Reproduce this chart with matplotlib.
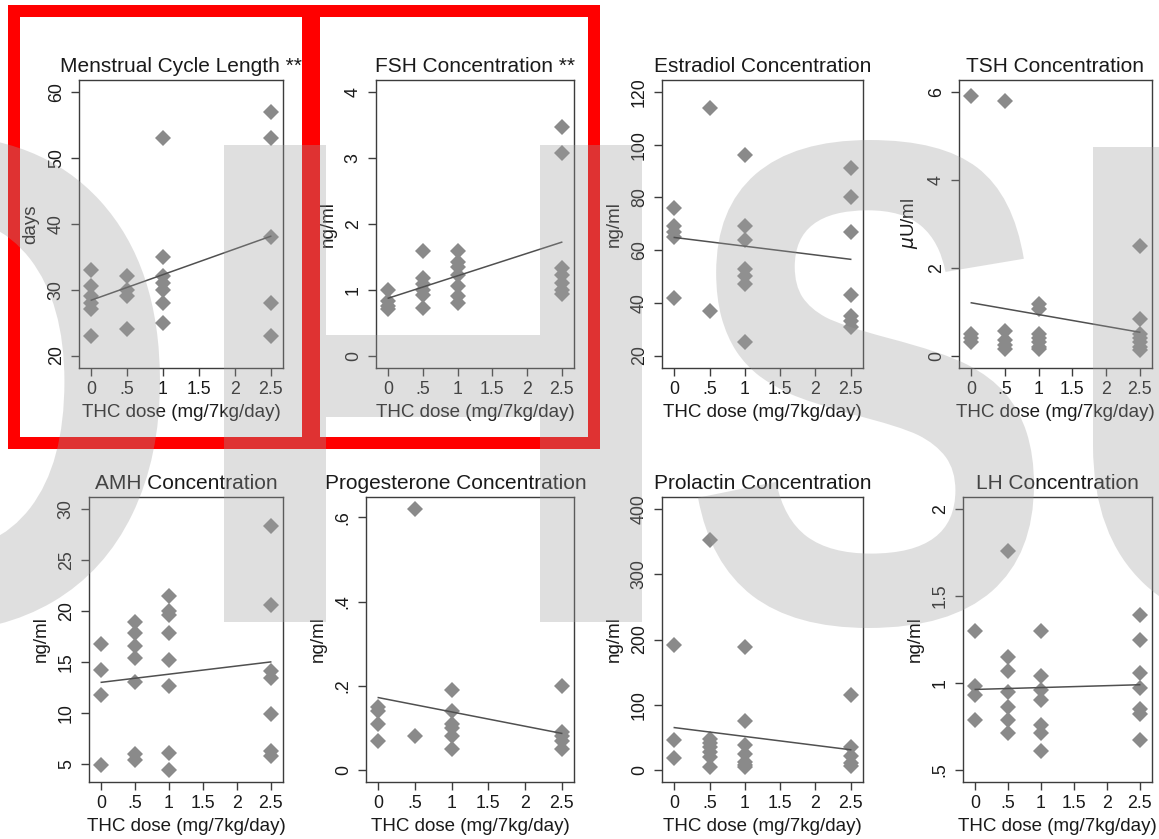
import numpy as np
import matplotlib
matplotlib.use("Agg")
import matplotlib.pyplot as plt
from matplotlib.patches import Rectangle, PathPatch
from matplotlib.textpath import TextPath
from matplotlib.font_manager import FontProperties
from matplotlib.transforms import Affine2D

plt.rcParams['font.family'] = ['Liberation Sans', 'DejaVu Sans']

W, H = 1159, 839

# x axis: THC dose groups
dose_levels = [0, 0.5, 1, 2.5]
dose_ticks = [0, 0.5, 1, 1.5, 2, 2.5]
dose_labels = ['0', '.5', '1', '1.5', '2', '2.5']
x_title = 'THC dose (mg/7kg/day)'

# values per dose group (0, .5, 1, 2.5)
cycle_length = [[33, 30.5, 29, 28, 27, 23],
                [32, 30, 29, 24],
                [53, 35, 32, 31, 30, 28, 25],
                [57, 53, 38, 28, 23]]
fsh = [[1.0, 0.82, 0.75, 0.7],
       [1.58, 1.17, 1.08, 1.0, 0.92, 0.72],
       [1.58, 1.42, 1.35, 1.22, 1.05, 0.9, 0.8],
       [3.47, 3.07, 1.33, 1.22, 1.1, 1.0, 0.93]]
estradiol = [[76, 69, 67, 65, 42],
             [114, 37],
             [96, 69, 64, 53, 50, 47, 25],
             [91, 80, 67, 43, 35, 33, 31]]
tsh = [[5.9, 0.5, 0.4, 0.3],
       [5.8, 0.55, 0.35, 0.25, 0.15],
       [1.17, 1.05, 0.5, 0.4, 0.3, 0.2, 0.15],
       [2.5, 0.84, 0.5, 0.4, 0.3, 0.2, 0.13]]
amh = [[16.8, 14.2, 11.8, 4.9],
       [18.9, 17.8, 16.6, 15.4, 13.0, 6.0, 5.4],
       [21.5, 20.0, 19.6, 17.8, 15.2, 12.6, 6.1, 4.4],
       [28.3, 20.6, 14.1, 13.4, 9.9, 6.3, 5.8]]
progesterone = [[0.15, 0.14, 0.11, 0.07],
                [0.62, 0.08],
                [0.19, 0.14, 0.11, 0.10, 0.08, 0.05],
                [0.20, 0.09, 0.08, 0.07, 0.05]]
prolactin = [[192, 46, 19],
             [353, 48, 42, 35, 28, 20, 5],
             [188, 75, 38, 25, 13, 8, 4],
             [115, 36, 22, 10, 6]]
lh = [[1.30, 0.98, 0.93, 0.79],
      [1.76, 1.15, 1.07, 0.95, 0.86, 0.79, 0.71],
      [1.30, 1.04, 0.96, 0.90, 0.76, 0.71, 0.61],
      [1.39, 1.25, 1.06, 0.97, 0.85, 0.82, 0.67]]

# fitted line values at dose 0 and 2.5
fit_x = [0, 2.5]
cycle_fit = [28.4, 38.1]
fsh_fit = [0.87, 1.72]
estradiol_fit = [64.8, 56.5]
tsh_fit = [1.2, 0.53]
amh_fit = [13.0, 15.0]
progesterone_fit = [0.172, 0.087]
prolactin_fit = [65, 31]
lh_fit = [0.963, 0.99]

titles = ['Menstrual Cycle Length **', 'FSH Concentration **',
          'Estradiol Concentration', 'TSH Concentration',
          'AMH Concentration', 'Progesterone Concentration',
          'Prolactin Concentration', 'LH Concentration']
y_titles = ['days', 'ng/ml', 'ng/ml', r'$\mu$U/ml',
            'ng/ml', 'ng/ml', 'ng/ml', 'ng/ml']
y_ticks = [[20, 30, 40, 50, 60], [0, 1, 2, 3, 4],
           [20, 40, 60, 80, 100, 120], [0, 2, 4, 6],
           [5, 10, 15, 20, 25, 30], [0, 0.2, 0.4, 0.6],
           [0, 100, 200, 300, 400], [0.5, 1, 1.5, 2]]
y_tick_labels = [['20', '30', '40', '50', '60'], ['0', '1', '2', '3', '4'],
                 ['20', '40', '60', '80', '100', '120'], ['0', '2', '4', '6'],
                 ['5', '10', '15', '20', '25', '30'], ['0', '.2', '.4', '.6'],
                 ['0', '100', '200', '300', '400'], ['.5', '1', '1.5', '2']]

panel_data = [cycle_length, fsh, estradiol, tsh, amh, progesterone, prolactin, lh]
panel_fits = [cycle_fit, fsh_fit, estradiol_fit, tsh_fit,
              amh_fit, progesterone_fit, prolactin_fit, lh_fit]

# plot boxes in image pixels: (left, right, top, bottom)
boxes = [(79, 283, 80, 367.5), (376, 574, 80, 367.5),
         (662, 863, 80, 367.5), (959, 1152, 80, 367.5),
         (89, 283, 497, 782), (366, 574, 497, 782),
         (662, 863, 497, 782), (963, 1152, 497, 782)]
title_x = [0.5, 0.5, 0.5, 0.5, 0.5, 0.433, 0.5, 0.5]

marker_color = '#8a8a8a'
line_color = '#505050'
frame_color = '#3c3c3c'
text_color = '#1a1a1a'

fig = plt.figure(figsize=(W / 100, H / 100), dpi=100)
fig.patch.set_facecolor('white')

for i in range(8):
    l, r, t, b = boxes[i]
    ax = fig.add_axes([l / W, 1 - b / H, (r - l) / W, (b - t) / H])
    for d, vals in zip(dose_levels, panel_data[i]):
        ax.plot([d] * len(vals), vals, 'D', ms=7.9, color=marker_color,
                mew=0, zorder=2)
    ax.plot(fit_x, panel_fits[i], color=line_color, lw=1.1, zorder=3)

    # axis ranges: data/ticks plus ~12 px of room on every side
    allv = [v for g in panel_data[i] for v in g]
    lo = min(min(allv), y_ticks[i][0])
    hi = max(max(allv), y_ticks[i][-1])
    hpx = b - t
    pad = (hi - lo) * 12 / (hpx - 24)
    ax.set_ylim(lo - pad, hi + pad)
    wpx = r - l
    xpad = 2.5 * 12.3 / (wpx - 24.6)
    ax.set_xlim(-xpad, 2.5 + xpad)

    ax.set_xticks(dose_ticks)
    ax.set_xticklabels(dose_labels)
    ax.set_yticks(y_ticks[i])
    ax.set_yticklabels(y_tick_labels[i])
    ax.tick_params(axis='both', direction='out', length=6, width=1.0,
                   color=frame_color, labelsize=12.8, labelcolor=text_color)
    ax.tick_params(axis='x', pad=3.5)
    ax.tick_params(axis='y', pad=4.2)
    for lab in ax.get_yticklabels():
        lab.set_rotation(90)
        lab.set_va('center')
        lab.set_ha('right')
    for sp in ax.spines.values():
        sp.set_color(frame_color)
        sp.set_linewidth(1.0)

    ax.set_title(titles[i], fontsize=15, color=text_color, pad=6, x=title_x[i])
    ax.set_xlabel(x_title, fontsize=13.5, color=text_color, labelpad=4.5)
    ax.set_ylabel(y_titles[i], fontsize=13.5, color=text_color, labelpad=6)


def px_box(x0, x1, y0, y1, **kw):
    return Rectangle((x0, H - y1), x1 - x0, y1 - y0, transform=Affine2D(), **kw)


# red highlight frames around the first two panels
for (x0, x1) in [(14, 308), (314, 594)]:
    fig.add_artist(px_box(x0, x1, 11, 443, fill=False, edgecolor='#ff0000',
                          lw=12 * 0.72, zorder=15))

# semi-transparent OHSU watermark laid over the figure
wm_font = FontProperties(family='Liberation Sans', weight='bold')
wm_letters = [('O', -292, 160, 135, 632),
              ('H', 224, 642, 145, 622),
              ('S', 698, 1034, 140, 628),
              ('U', 1093, 1500, 147, 632)]
for ch, x0, x1, y0, y1 in wm_letters:
    path = TextPath((0, 0), ch, size=100, prop=wm_font)
    ext = path.get_extents()
    tr = (Affine2D().translate(-ext.x0, -ext.y0)
          .scale((x1 - x0) / ext.width, (y1 - y0) / ext.height)
          .translate(x0, H - y1))
    fig.add_artist(PathPatch(path, transform=tr, facecolor='#9d9d9d',
                             edgecolor='none', alpha=0.32, zorder=20))

fig.savefig('out.png', dpi=100)
